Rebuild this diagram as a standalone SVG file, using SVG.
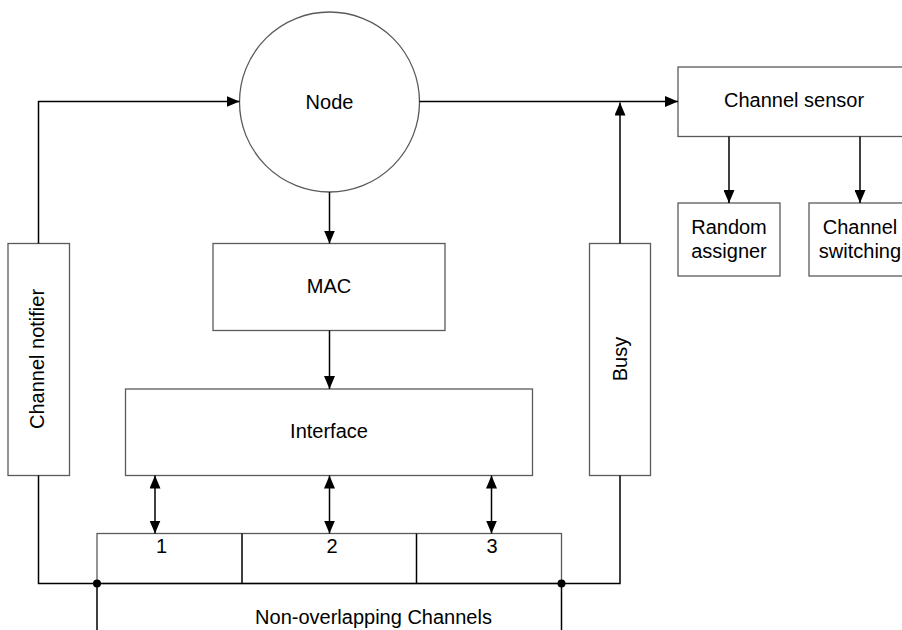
<svg xmlns="http://www.w3.org/2000/svg" width="902" height="630" viewBox="0 0 902 630">
  <defs>
    <marker id="arrow" viewBox="0 0 13 11" refX="13" refY="5.5" markerWidth="13" markerHeight="11" markerUnits="userSpaceOnUse" orient="auto-start-reverse">
      <path d="M0,0 L13,5.5 L0,11 Z" fill="#000"/>
    </marker>
    <style>
      .box { fill: #fff; stroke: #5a5a5a; stroke-width: 1.3; }
      .lbl { font-family: "Liberation Sans", Arial, sans-serif; font-size: 20px; fill: #000; text-anchor: middle; }
      .wire { fill: none; stroke: #000; stroke-width: 1.5; }
      .arr { fill: none; stroke: #000; stroke-width: 1.5; marker-end: url(#arrow); }
      .bi { fill: none; stroke: #000; stroke-width: 1.5; marker-start: url(#arrow); marker-end: url(#arrow); }
    </style>
  </defs>
  <rect width="902" height="630" fill="#fff"/>

  <!-- Nodes -->
  <g id="node">
    <circle class="box" cx="329.5" cy="102" r="90"/>
    <text class="lbl" x="329.5" y="109">Node</text>
  </g>
  <g id="mac">
    <rect class="box" x="213" y="243.5" width="232" height="87"/>
    <text class="lbl" x="329" y="293">MAC</text>
  </g>
  <g id="interface">
    <rect class="box" x="125.5" y="389" width="407" height="86.5"/>
    <text class="lbl" x="329" y="438">Interface</text>
  </g>
  <g id="channel-notifier">
    <rect class="box" x="8" y="243.5" width="61.5" height="232"/>
    <text class="lbl" transform="translate(44,359) rotate(-90)">Channel notifier</text>
  </g>
  <g id="busy">
    <rect class="box" x="589.5" y="243.5" width="61" height="232"/>
    <text class="lbl" transform="translate(627,359) rotate(-90)">Busy</text>
  </g>
  <g id="channel-sensor">
    <rect class="box" x="678" y="67" width="233" height="69.5"/>
    <text class="lbl" x="794" y="107">Channel sensor</text>
  </g>
  <g id="random-assigner">
    <rect class="box" x="678" y="203" width="102" height="73"/>
    <text class="lbl" x="729" y="234">Random</text>
    <text class="lbl" x="729" y="258">assigner</text>
  </g>
  <g id="channel-switching">
    <rect class="box" x="809" y="203" width="102" height="73"/>
    <text class="lbl" x="860" y="234">Channel</text>
    <text class="lbl" x="860" y="258">switching</text>
  </g>
  <g id="channels">
    <rect class="box" x="97" y="533.5" width="464.5" height="50"/>
    <line class="wire" x1="242" y1="533.5" x2="242" y2="583.5"/>
    <line class="wire" x1="416.5" y1="533.5" x2="416.5" y2="583.5"/>
    <text class="lbl" x="161.5" y="552.5">1</text>
    <text class="lbl" x="332" y="552.5">2</text>
    <text class="lbl" x="492" y="552.5">3</text>
    <text class="lbl" x="373.5" y="624">Non-overlapping Channels</text>
  </g>

  <!-- Connectors -->
  <g id="connectors">
    <!-- notifier up and over into the node -->
    <path class="arr" d="M38.5,243.5 V101.5 H239.5"/>
    <!-- node out to the channel sensor -->
    <path class="arr" d="M419.5,101.5 H678"/>
    <!-- busy feeds up into that line -->
    <path class="arr" d="M620,243.5 V102.5"/>
    <!-- node to MAC, MAC to interface -->
    <path class="arr" d="M329.5,192 V243.5"/>
    <path class="arr" d="M329.5,330.5 V389"/>
    <!-- sensor to its two helpers -->
    <path class="arr" d="M729,136.5 V203"/>
    <path class="arr" d="M860,136.5 V203"/>
    <!-- interface to each channel, both ways -->
    <path class="bi" d="M155,475.5 V533.5"/>
    <path class="bi" d="M329.5,475.5 V533.5"/>
    <path class="bi" d="M491.5,475.5 V533.5"/>
    <!-- shared bus under the channels -->
    <path class="wire" d="M38.5,475.5 V583.5 H620 V475.5"/>
    <line class="wire" x1="97" y1="583.5" x2="97" y2="630"/>
    <line class="wire" x1="561.5" y1="583.5" x2="561.5" y2="630"/>
    <circle cx="97" cy="583.5" r="4" fill="#000"/>
    <circle cx="561.5" cy="583.5" r="4" fill="#000"/>
  </g>
</svg>
